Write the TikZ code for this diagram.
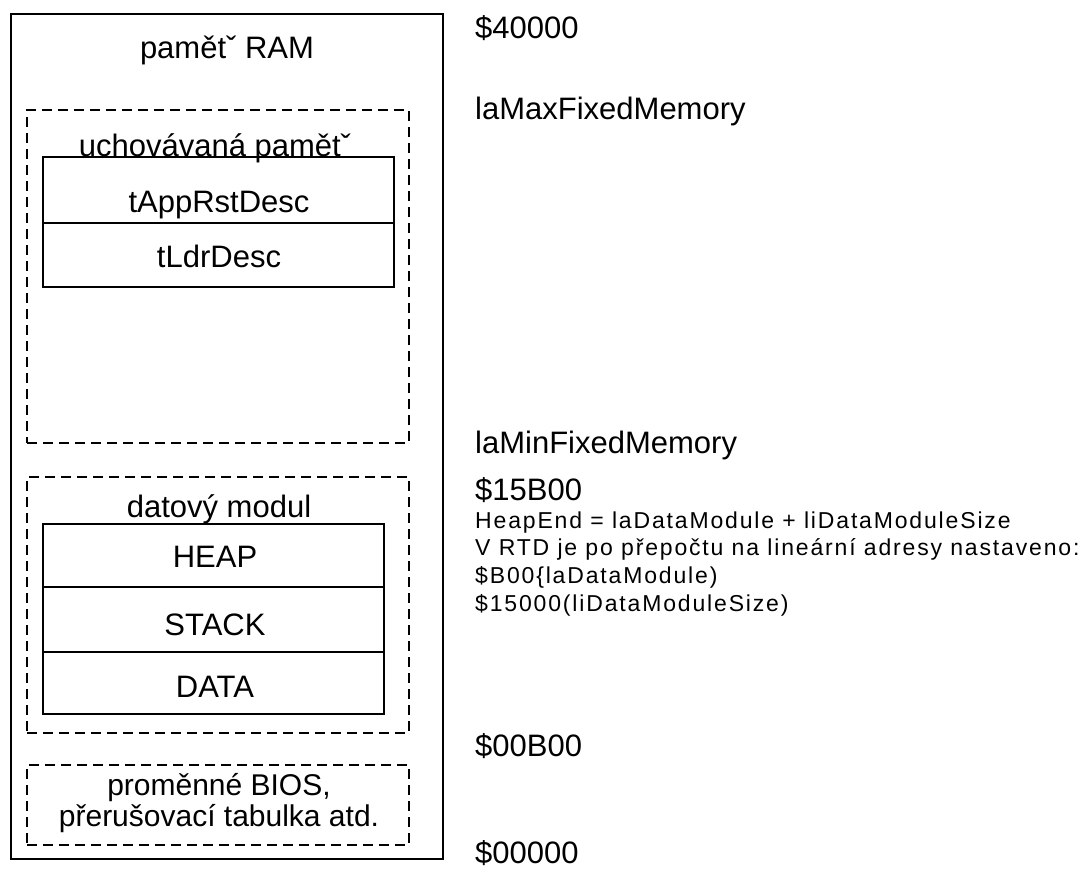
\documentclass[tikz,border=0pt]{standalone}
\usepackage{fontspec}
\setmainfont{Liberation Sans}
\newfontfamily\spacedfont[LetterSpace=8]{Liberation Sans}
\usetikzlibrary{fit}
\tikzset{
  memframe/.style={draw, line width=1.3pt, inner sep=0pt, rectangle},
  memcell/.style={draw, line width=1.5pt, inner sep=0pt, rectangle},
  region/.style={draw, line width=1.5pt, dash pattern=on 10pt off 6pt, inner sep=0pt, rectangle},
  bigtext/.style={font=\fontsize{31}{36}\selectfont, inner sep=0pt, anchor=base},
  biostext/.style={font=\fontsize{30}{34}\selectfont, inner sep=0pt, anchor=base},
  addr/.style={font=\fontsize{31}{36}\selectfont, inner sep=0pt, anchor=base west},
  note/.style={font=\spacedfont\fontsize{23}{27.7}\selectfont, inner sep=0pt, anchor=base west}
}
\begin{document}
\begin{tikzpicture}[x=1pt,y=-1pt]
\useasboundingbox (0,0) rectangle (1087,869);
% outer RAM frame
\node[memframe, fit={(11,14) (443,859)}] (ram) {};
\node[bigtext] (ramlabel) at (227,59) {pamětˇ RAM};
% kept memory
\node[region, fit={(27,110) (409,443)}] (kept) {};
\node[bigtext] (keptlabel) at (215,157) {uchovávaná pamětˇ};
\node[memcell, fit={(43,157) (394,223)}] (app) {};
\node[memcell, fit={(43,223) (394,287)}] (ldr) {};
\node[bigtext] (applabel) at (219,213) {tAppRstDesc};
\node[bigtext] (ldrlabel) at (219,268) {tLdrDesc};
% data module
\node[region, fit={(27,477) (409,733)}] (dmod) {};
\node[bigtext] (dmodlabel) at (219,517) {datový modul};
\node[memcell, fit={(43,524) (384,587)}] (heap) {};
\node[memcell, fit={(43,587) (384,652)}] (stack) {};
\node[memcell, fit={(43,652) (384,714)}] (data) {};
\node[bigtext] (heaplabel) at (215,567) {HEAP};
\node[bigtext] (stacklabel) at (215,635) {STACK};
\node[bigtext] (datalabel) at (215,697) {DATA};
% BIOS
\node[region, fit={(27,765) (409,845)}] (bios) {};
\node[biostext] (bios1) at (219,795) {proměnné BIOS,};
\node[biostext] (bios2) at (219,826) {přerušovací tabulka atd.};
% addresses
\node[addr] (a40000) at (475,39) {\$40000};
\node[addr] (amax) at (475,120) {laMaxFixedMemory};
\node[addr] (amin) at (475,453) {laMinFixedMemory};
\node[addr] (a15b00) at (475,500) {\$15B00};
\node[note] (n1) at (475,528) {HeapEnd = laDataModule + liDataModuleSize};
\node[note] (n2) at (475,555.7) {V RTD je po přepočtu na lineární adresy nastaveno:};
\node[note] (n3) at (475,583.3) {\$B00\{laDataModule)};
\node[note] (n4) at (475,611) {\$15000(liDataModuleSize)};
\node[addr] (a00b00) at (475,756) {\$00B00};
\node[addr] (a00000) at (475,863) {\$00000};
\end{tikzpicture}
\end{document}
